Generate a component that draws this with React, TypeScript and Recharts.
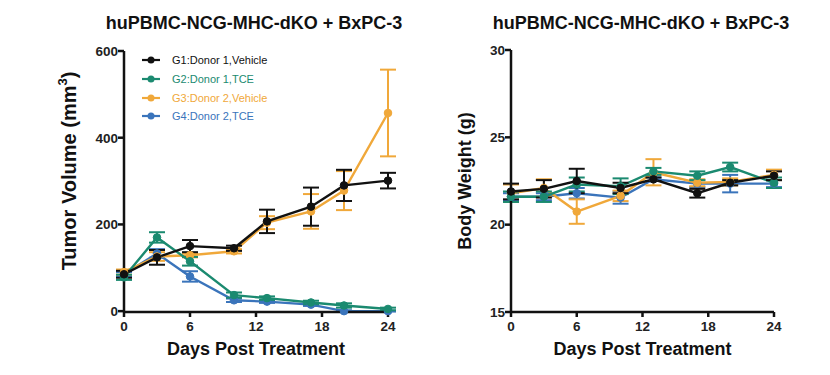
import React from "react";
import { LineChart, Line, XAxis, YAxis, ErrorBar, Label } from "recharts";

const days = [0, 3, 6, 10, 13, 17, 20, 24];
const dayTicks = [0, 6, 12, 18, 24];
const tumorTicks = [0, 200, 400, 600];
const weightTicks = [15, 20, 25, 30];

const groupNames = ["G1:Donor 1,Vehicle", "G2:Donor 1,TCE", "G3:Donor 2,Vehicle", "G4:Donor 2,TCE"];
const groupColors = ["#111111", "#1b8a70", "#f0a83a", "#3a74bb"];

const tumorG1 = [85, 124, 150, 145, 207, 241, 290, 301];
const tumorG1Err = [8, 17, 14, 6, 27, 44, 36, 18];
const tumorG2 = [78, 170, 115, 37, 30, 20, 13, 5];
const tumorG2Err = [6, 12, 10, 6, 4, 4, 5, 3];
const tumorG3 = [90, 126, 129, 138, 204, 230, 278, 457];
const tumorG3Err = [6, 10, 5, 5, 15, 40, 45, 100];
const tumorG4 = [85, 133, 80, 25, 22, 15, 0, 0];
const tumorG4Err = [5, 10, 12, 4, 3, 3, 2, 1];

const weightG1 = [21.9, 22.05, 22.5, 22.1, 22.6, 21.8, 22.4, 22.8];
const weightG1Err = [0.45, 0.5, 0.7, 0.3, 0.1, 0.25, 0.15, 0.25];
const weightG2 = [21.6, 21.6, 22.3, 22.2, 23.05, 22.8, 23.3, 22.4];
const weightG2Err = [0.3, 0.3, 0.4, 0.45, 0.2, 0.25, 0.25, 0.3];
const weightG3 = [21.8, 22.1, 20.75, 21.65, 23.0, 22.4, 22.45, 22.85];
const weightG3Err = [0.5, 0.5, 0.7, 0.3, 0.75, 0.2, 0.2, 0.3];
const weightG4 = [21.6, 21.6, 21.8, 21.55, 22.6, 22.35, 22.35, 22.35];
const weightG4Err = [0.2, 0.2, 0.3, 0.35, 0.1, 0.2, 0.5, 0.2];

const FONT = "'Liberation Sans', Arial, sans-serif";

const build = (vals: number[][], errs: number[][]) =>
  days.map((d, i) => {
    const row: any = { day: d };
    vals.forEach((v, g) => {
      row["g" + g] = v[i];
      row["e" + g] = errs[g][i];
    });
    return row;
  });

const tumorData = build([tumorG1, tumorG2, tumorG3, tumorG4], [tumorG1Err, tumorG2Err, tumorG3Err, tumorG4Err]);
const weightData = build([weightG1, weightG2, weightG3, weightG4], [weightG1Err, weightG2Err, weightG3Err, weightG4Err]);

const tickStyle = { fontFamily: FONT, fontSize: 13.5, fontWeight: 700, fill: "#222" };
const axisLine = { stroke: "#111", strokeWidth: 2.5 };

const renderOrder = [3, 2, 1, 0];

const YLabel = (text: React.ReactNode, x: number, cy: number, size: number) => () => (
  <text
    x={x}
    y={cy}
    transform={`rotate(-90 ${x} ${cy})`}
    textAnchor="middle"
    dominantBaseline="central"
    style={{ fontFamily: FONT, fontSize: size, fontWeight: 700, fill: "#111" }}
  >
    {text}
  </text>
);

const series = () =>
  renderOrder.map((g) => (
    <Line
      key={g}
      type="linear"
      dataKey={"g" + g}
      stroke={groupColors[g]}
      strokeWidth={2.4}
      dot={{ r: 3.8, fill: groupColors[g], stroke: groupColors[g], strokeWidth: 1 }}
      isAnimationActive={false}
    >
      <ErrorBar dataKey={"e" + g} width={8} strokeWidth={2} stroke={groupColors[g]} direction="y" />
    </Line>
  ));

const LegendBox = () => (
  <div style={{ position: "absolute", left: 136, top: 51, fontFamily: FONT, fontSize: 11 }}>
    {groupNames.map((n, i) => (
      <div key={n} style={{ display: "flex", alignItems: "center", height: 18.7, color: groupColors[i] }}>
        <svg width={30} height={10} style={{ marginRight: 6 }}>
          <line x1={6} y1={5} x2={24} y2={5} stroke={groupColors[i]} strokeWidth={2.2} />
          <circle cx={15} cy={5} r={3.5} fill={groupColors[i]} />
        </svg>
        <span>{n}</span>
      </div>
    ))}
  </div>
);

const titleStyle: React.CSSProperties = {
  position: "absolute",
  top: 13,
  width: 400,
  textAlign: "center",
  fontFamily: FONT,
  fontSize: 18,
  fontWeight: 700,
  color: "#111",
  whiteSpace: "nowrap",
};

const xLabelStyle = { fontFamily: FONT, fontSize: 18, fontWeight: 700, fill: "#111" };

export default function App() {
  return (
    <div style={{ position: "absolute", left: 0, top: 0, width: 830, height: 375, background: "#fff" }}>
      <div style={{ ...titleStyle, left: 54 }}>huPBMC-NCG-MHC-dKO + BxPC-3</div>
      <div style={{ ...titleStyle, left: 441 }}>huPBMC-NCG-MHC-dKO + BxPC-3</div>
      <div style={{ position: "absolute", left: 0, top: 0 }}>
        <LineChart width={420} height={375} data={tumorData} margin={{ top: 51, right: 32, bottom: 0, left: 0 }}>
          <XAxis
            dataKey="day"
            type="number"
            domain={[0, 24]}
            ticks={dayTicks}
            tick={tickStyle}
            tickSize={5}
            tickMargin={4}
            axisLine={axisLine}
            tickLine={axisLine}
            height={63}
          >
            <Label value="Days Post Treatment" position="insideBottom" offset={20} style={xLabelStyle} />
          </XAxis>
          <YAxis
            type="number"
            domain={[0, 600]}
            ticks={tumorTicks}
            tick={tickStyle}
            tickSize={6}
            tickMargin={0}
            axisLine={axisLine}
            tickLine={axisLine}
            width={124}
            interval={0}
          >
            <Label
              content={YLabel(
                <>
                  Tumor Volume (mm<tspan dy={-7} fontSize={13}>3</tspan>
                  <tspan dy={7}>)</tspan>
                </>,
                69,
                171,
                20
              )}
            />
          </YAxis>
          {series()}
        </LineChart>
      </div>
      <LegendBox />
      <div style={{ position: "absolute", left: 415, top: 0 }}>
        <LineChart width={415} height={375} data={weightData} margin={{ top: 50, right: 56, bottom: 0, left: 0 }}>
          <XAxis
            dataKey="day"
            type="number"
            domain={[0, 24]}
            ticks={dayTicks}
            tick={tickStyle}
            tickSize={5}
            tickMargin={4}
            axisLine={axisLine}
            tickLine={axisLine}
            height={63}
          >
            <Label value="Days Post Treatment" position="insideBottom" offset={20} style={xLabelStyle} />
          </XAxis>
          <YAxis
            type="number"
            domain={[15, 30]}
            ticks={weightTicks}
            tick={tickStyle}
            tickSize={6}
            tickMargin={0}
            axisLine={axisLine}
            tickLine={axisLine}
            width={96}
            interval={0}
          >
            <Label content={YLabel("Body Weight (g)", 50, 181, 18)} />
          </YAxis>
          {series()}
        </LineChart>
      </div>
    </div>
  );
}
